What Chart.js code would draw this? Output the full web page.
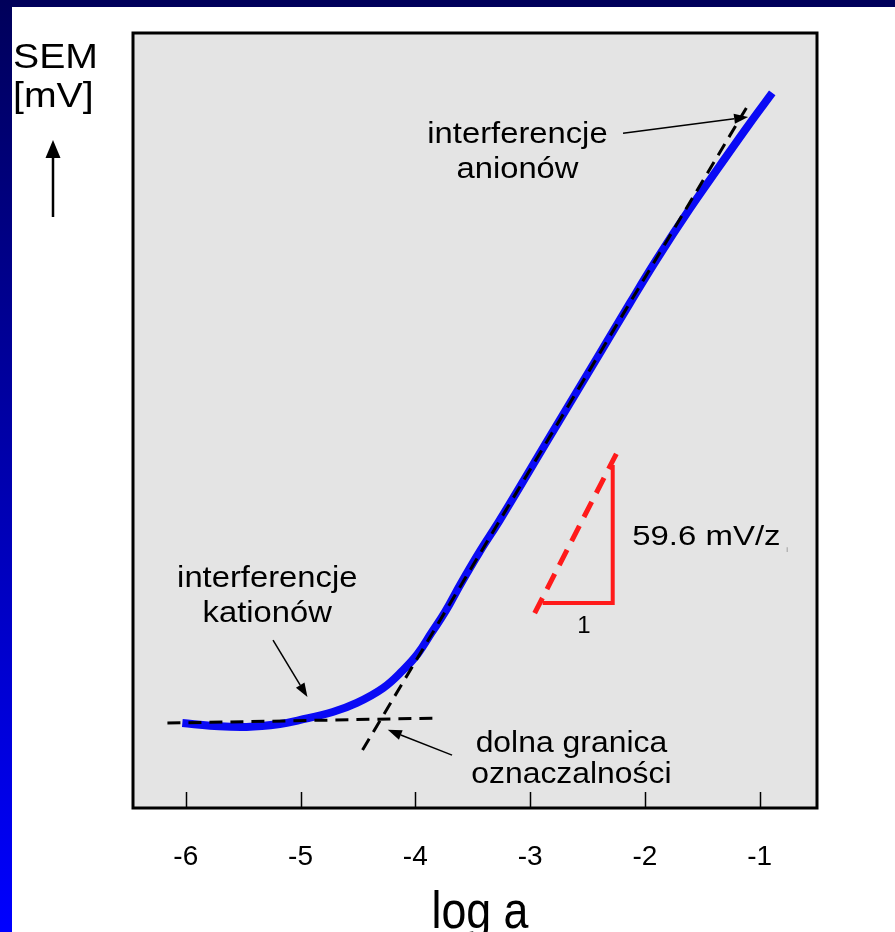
<!DOCTYPE html>
<html><head><meta charset="utf-8">
<script src="https://cdn.jsdelivr.net/npm/chart.js@4.4.1/dist/chart.umd.min.js"></script>
<style>html,body{margin:0;padding:0;background:#fff;overflow:hidden}canvas{display:block}</style>
</head><body>
<canvas id="c" width="895" height="932"></canvas>
<script>
// ---- data (x = log a, y = SEM in mV) ----
const xTicks = [-6, -5, -4, -3, -2, -1];
const curveX = [-6.03,-5.75,-5.47,-5.18,-5.01,-4.72,-4.51,-4.28,-4.11,-3.98,-3.86,-3.74,-3.61,-3.44,-3.26,-2.83,-2.39,-2.13,-1.90,-1.61,-1.35,-1.09,-0.89];
const curveY = [26.2,25.3,25.0,25.9,27.1,29.6,32.4,37.0,42.4,47.5,54.0,60.5,68.8,79.0,89.0,114.4,140.3,155.7,169.0,184.7,197.9,210.9,220.5];
const slopeX = [-4.46, -1.09];
const slopeY = [17.9, 217.4];
const baseX = [-6.16, -3.83];
const baseY = [26.2, 27.7];
const triX = [-2.89, -2.28, -2.28];
const triY = [63.2, 63.2, 105.8];
const hypX = [-2.96, -2.24];
const hypY = [60.1, 109.8];

const pts = (xs, ys) => xs.map((x, i) => ({x, y: ys[i]}));
const FONT = '"Liberation Sans", Arial, Helvetica, sans-serif';

// annotation texts (data coordinates)
const notes = [
  {t: 'interferencje', x: -5.29, y: 68.1, size: 29, sx: 1.13, align: 'center'},
  {t: 'kationów', x: -5.29, y: 57.4, size: 29, sx: 1.13, align: 'center'},
  {t: 'dolna granica', x: -2.64, y: 17.3, size: 29, sx: 1.10, align: 'center'},
  {t: 'oznaczalności', x: -2.64, y: 7.7, size: 29, sx: 1.10, align: 'center'},
  {t: 'interferencje', x: -3.11, y: 205.1, size: 29, sx: 1.13, align: 'center'},
  {t: 'anionów', x: -3.11, y: 194.3, size: 29, sx: 1.13, align: 'center'},
  {t: '59.6 mV/z', x: -2.11, y: 81.1, size: 27, sx: 1.22, align: 'left'},
  {t: '1', x: -2.53, y: 54.0, size: 24, sx: 1.0, align: 'center'}
];
const arrows = [
  {x1: -5.24, y1: 51.8, x2: -4.94, y2: 34.2},
  {x1: -3.68, y1: 16.3, x2: -4.24, y2: 24.1},
  {x1: -2.19, y1: 208.1, x2: -1.10, y2: 213.1}
];

function txt(ctx, t, x, y, size, sx, align) {
  ctx.save();
  ctx.translate(x, y);
  ctx.scale(sx, 1);
  ctx.font = size + 'px ' + FONT;
  ctx.textAlign = align;
  ctx.textBaseline = 'alphabetic';
  ctx.fillStyle = '#000';
  ctx.fillText(t, 0, 0);
  ctx.restore();
}
function arrow(ctx, x1, y1, x2, y2, len, w, lw) {
  const a = Math.atan2(y2 - y1, x2 - x1);
  const bx = x2 - len * Math.cos(a), by = y2 - len * Math.sin(a);
  ctx.save();
  ctx.strokeStyle = '#000'; ctx.fillStyle = '#000'; ctx.lineWidth = lw;
  ctx.beginPath(); ctx.moveTo(x1, y1); ctx.lineTo(bx, by); ctx.stroke();
  ctx.beginPath();
  ctx.moveTo(x2, y2);
  ctx.lineTo(bx + w / 2 * Math.sin(a), by - w / 2 * Math.cos(a));
  ctx.lineTo(bx - w / 2 * Math.sin(a), by + w / 2 * Math.cos(a));
  ctx.closePath(); ctx.fill();
  ctx.restore();
}

const decor = {
  id: 'decor',
  beforeDraw(chart) {
    const {ctx, width, height} = chart;
    const g = ctx.createLinearGradient(0, 0, 0, height);
    g.addColorStop(0, '#00005a');
    g.addColorStop(1, '#0000ff');
    ctx.save();
    ctx.fillStyle = g; ctx.fillRect(0, 0, width, height);
    ctx.fillStyle = '#ffffff'; ctx.fillRect(12, 7, width - 12, height - 7);
    ctx.restore();
  },
  beforeDatasetsDraw(chart) {
    const {ctx, chartArea: a} = chart;
    ctx.save();
    ctx.fillStyle = '#e4e4e4';
    ctx.fillRect(a.left, a.top, a.right - a.left, a.bottom - a.top);
    ctx.restore();
  },
  afterDatasetsDraw(chart) {
    const {ctx, chartArea: a, scales} = chart;
    ctx.save();
    ctx.strokeStyle = '#000';
    ctx.lineWidth = 1.5;
    xTicks.forEach(v => {
      const px = Math.round(scales.x.getPixelForValue(v)) + 0.5;
      ctx.beginPath(); ctx.moveTo(px, a.bottom - 16); ctx.lineTo(px, a.bottom); ctx.stroke();
    });
    ctx.lineWidth = 3;
    ctx.strokeRect(a.left, a.top, a.right - a.left, a.bottom - a.top);
    ctx.restore();
  },
  afterDraw(chart) {
    const {ctx, scales: {x, y}} = chart;
    notes.forEach(n => txt(ctx, n.t, x.getPixelForValue(n.x), y.getPixelForValue(n.y), n.size, n.sx, n.align));
    arrows.forEach(r => arrow(ctx, x.getPixelForValue(r.x1), y.getPixelForValue(r.y1),
      x.getPixelForValue(r.x2), y.getPixelForValue(r.y2), 14, 10, 1.5));
    // tiny subscript remnant after z
    ctx.save(); ctx.fillStyle = '#888'; ctx.font = '8px ' + FONT;
    ctx.fillText('i', x.getPixelForValue(-2.11) + 154, y.getPixelForValue(81.1) + 7); ctx.restore();
    // y-axis label and arrow
    txt(ctx, 'SEM', 13, 68, 35, 1.12, 'left');
    txt(ctx, '[mV]', 13, 107, 35, 1.12, 'left');
    arrow(ctx, 53, 217, 53, 140, 18, 15, 2.5);
    // x-axis title
    txt(ctx, 'log a', 480, 928, 52, 0.86, 'center');
  }
};

new Chart(document.getElementById('c'), {
  type: 'line',
  data: {
    datasets: [
      {data: pts(slopeX, slopeY), borderColor: '#000', borderWidth: 3, borderDash: [13, 8], pointRadius: 0, fill: false},
      {data: pts(baseX, baseY), borderColor: '#000', borderWidth: 3, borderDash: [13, 8], pointRadius: 0, fill: false},
      {data: pts(hypX, hypY), borderColor: '#ff1a1a', borderWidth: 5, borderDash: [17, 10], pointRadius: 0, fill: false},
      {data: pts(triX, triY), borderColor: '#ff1a1a', borderWidth: 4, pointRadius: 0, fill: false, tension: 0},
      {data: pts(curveX, curveY), borderColor: '#0a0af5', borderWidth: 8, pointRadius: 0, fill: false,
       tension: 0.4, borderCapStyle: 'butt', borderJoinStyle: 'round'}
    ]
  },
  options: {
    responsive: false,
    animation: false,
    events: [],
    layout: {padding: {left: 133, top: 33, right: 78, bottom: 0}},
    plugins: {legend: {display: false}, tooltip: {enabled: false}, title: {display: false}},
    scales: {
      x: {
        type: 'linear', min: -6.46, max: -0.50, position: 'bottom',
        afterFit: s => { s.height = 124; },
        afterBuildTicks: s => { s.ticks = xTicks.map(v => ({value: v})); },
        grid: {display: false, drawTicks: false},
        border: {display: false},
        ticks: {font: {size: 28, family: FONT}, color: '#000', padding: 32, autoSkip: false, maxRotation: 0,
                callback: v => String(v)}
      },
      y: {type: 'linear', min: 0, max: 239, display: false}
    }
  },
  plugins: [decor]
});
</script>
</body></html>
